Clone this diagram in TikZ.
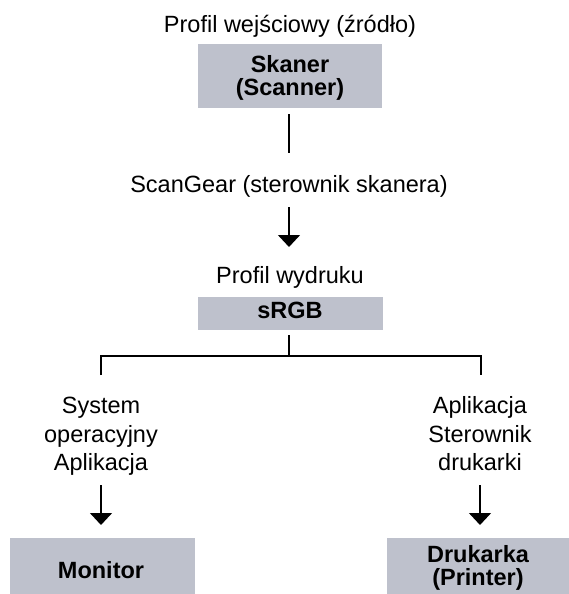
\documentclass[tikz,border=0pt]{standalone}
\usepackage{fontspec}
\setmainfont{Liberation Sans}
\usetikzlibrary{arrows.meta}
\definecolor{boxgray}{RGB}{190,193,204}
\begin{document}
\begin{tikzpicture}[x=1pt,y=-1pt,
  lbl/.style={font=\fontsize{23.5}{29}\selectfont, inner sep=0pt, anchor=base},
  bl/.style={font=\fontsize{23.5}{23}\selectfont\bfseries, inner sep=0pt, anchor=base},
  gbox/.style={fill=boxgray, draw=none, inner sep=0pt, anchor=north west},
  ln/.style={line width=1.5pt},
  arr/.style={line width=1.5pt, -{Triangle[width=22pt,length=12pt]}}]
\useasboundingbox (0,0) rectangle (569,594);

% boxes
\node[gbox, minimum width=184pt, minimum height=64pt] (skbox) at (198,44) {};
\node[gbox, minimum width=185pt, minimum height=33pt] (srgbbox) at (198,297) {};
\node[gbox, minimum width=185pt, minimum height=56pt] (monbox) at (10,538) {};
\node[gbox, minimum width=182pt, minimum height=56pt] (drbox) at (387,538) {};

% texts
\node[lbl] (t1) at (290,33) {Profil wejściowy (źródło)};
\node[bl] (sk1) at (290,72) {Skaner};
\node[bl] (sk2) at (290,95) {(Scanner)};
\node[lbl] (sg) at (289,192) {ScanGear (sterownik skanera)};
\node[lbl] (pw) at (290,283) {Profil wydruku};
\node[bl] (srgb) at (290,318) {sRGB};
\node[lbl] (l1) at (101,413) {System};
\node[lbl] (l2) at (101,442) {operacyjny};
\node[lbl] (l3) at (101,470) {Aplikacja};
\node[lbl] (r1) at (480,413) {Aplikacja};
\node[lbl] (r2) at (480,442) {Sterownik};
\node[lbl] (r3) at (480,470) {drukarki};
\node[bl] (mon) at (101,578) {Monitor};
\node[bl] (dr1) at (478,562) {Drukarka};
\node[bl] (dr2) at (478,585) {(Printer)};

% connector points
\coordinate (a1) at (289,114);
\coordinate (a2) at (289,153);
\coordinate (b1) at (289,207);
\coordinate (b2) at (289,247);
\coordinate (c1) at (289,335);
\coordinate (c2) at (289,356);
\coordinate (cl) at (101,356);
\coordinate (cr) at (481,356);
\coordinate (cl2) at (101,375);
\coordinate (cr2) at (481,375);
\coordinate (dl1) at (101,485);
\coordinate (dl2) at (101,525);
\coordinate (dr1c) at (480,485);
\coordinate (dr2c) at (480,525);

\draw[ln] (a1) -- (a2);
\draw[arr] (b1) -- (b2);
\draw[ln] (c1) -- (c2);
\draw[ln] (cl2) -- (cl) -- (cr) -- (cr2);
\draw[arr] (dl1) -- (dl2);
\draw[arr] (dr1c) -- (dr2c);
\end{tikzpicture}
\end{document}
